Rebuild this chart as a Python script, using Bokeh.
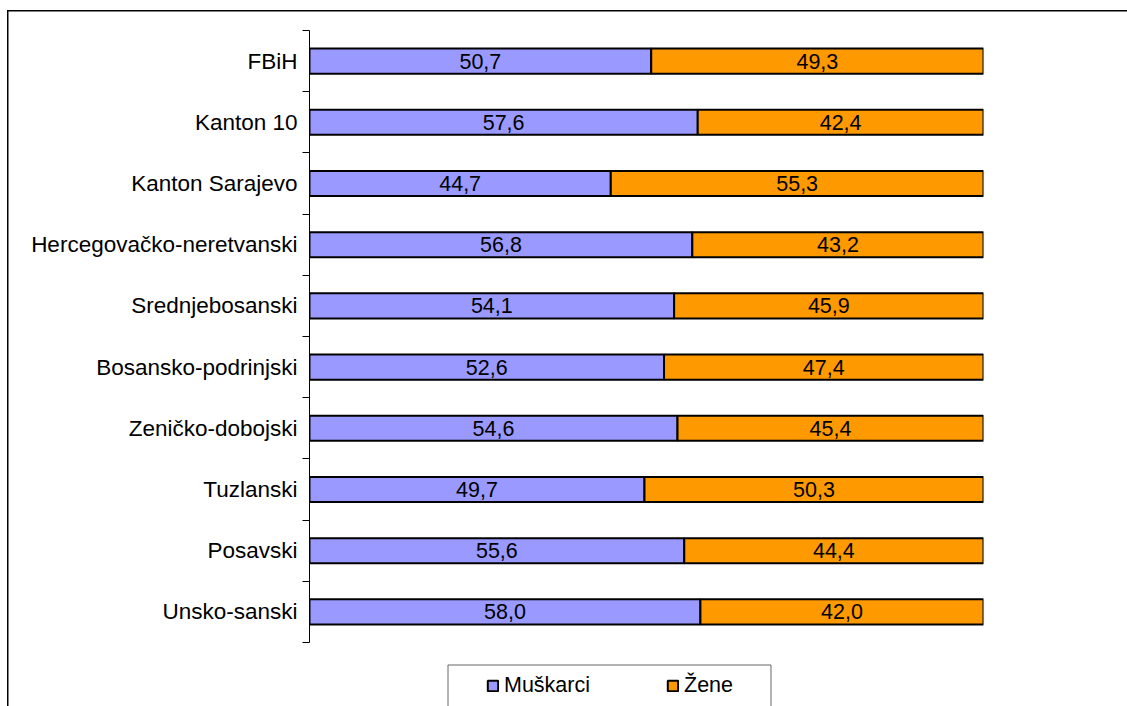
from bokeh.plotting import figure
from bokeh.models import (ColumnDataSource, Range1d, FixedTicker, Legend, LegendItem,
                          BoxAnnotation, LinearAxis)
from bokeh.core.properties import value
from bokeh.embed import file_html
from bokeh.resources import INLINE

# ---- data (top to bottom) ----
categories = ["FBiH", "Kanton 10", "Kanton Sarajevo", "Hercegovačko-neretvanski",
              "Srednjebosanski", "Bosansko-podrinjski", "Zeničko-dobojski",
              "Tuzlanski", "Posavski", "Unsko-sanski"]
muskarci = [50.7, 57.6, 44.7, 56.8, 54.1, 52.6, 54.6, 49.7, 55.6, 58.0]
zene = [49.3, 42.4, 55.3, 43.2, 45.9, 47.4, 45.4, 50.3, 44.4, 42.0]
series_names = ["Muškarci", "Žene"]

BLUE = "#9999FF"
ORANGE = "#FF9900"
FONT = "Liberation Sans"

n = len(categories)
ys = [i + 0.5 for i in range(n)]

def fmt(v):
    return f"{v:.1f}".replace(".", ",")

src = ColumnDataSource(dict(
    y=ys,
    m_end=muskarci,
    z_end=[a + b for a, b in zip(muskarci, zene)],
    m_mid=[a / 2 for a in muskarci],
    z_mid=[a + b / 2 for a, b in zip(muskarci, zene)],
    m_lab=[fmt(v) for v in muskarci],
    z_lab=[fmt(v) for v in zene],
))

# frame: categories take the top 612 px, the remaining 64 px hold the legend
p = figure(frame_width=674, frame_height=676,
           min_border_left=309, min_border_right=144,
           min_border_top=30, min_border_bottom=0,
           x_range=Range1d(0, 100), y_range=Range1d(n + 64 / 61.2, 0),
           x_axis_location=None, y_axis_location=None,
           output_backend="svg", toolbar_location=None,
           background_fill_color="white", border_fill_alpha=0)
p.outline_line_color = None
p.xgrid.visible = False
p.ygrid.visible = False
p.styles = {
    "background": ("linear-gradient(#000,#000) 7px 10px / 1.5px calc(100% - 10px) no-repeat, "
                   "linear-gradient(#000,#000) 7px 10px / calc(100% - 7px) 1.5px no-repeat, #fff"),
}

bar_h = 0.41
r_m = p.hbar(y="y", left=0, right="m_end", height=bar_h, source=src,
             fill_color=BLUE, line_color="black", line_width=2)
r_z = p.hbar(y="y", left="m_end", right="z_end", height=bar_h, source=src,
             fill_color=ORANGE, line_color="black", line_width=2)

p.text(x="m_mid", y="y", text="m_lab", source=src, text_align="center",
       text_baseline="middle", text_font=value(FONT), text_font_size="21.5px",
       text_color="black")
p.text(x="z_mid", y="y", text="z_lab", source=src, text_align="center",
       text_baseline="middle", text_font=value(FONT), text_font_size="21.5px",
       text_color="black")

# y axis: labels at category centres, ticks at category boundaries
yaxis = LinearAxis(
    ticker=FixedTicker(ticks=ys, minor_ticks=list(range(n + 1))),
    major_label_overrides={y: c for y, c in zip(ys, categories)},
    bounds=(0, n),
    major_tick_line_color=None, major_tick_out=0, major_tick_in=0,
    minor_tick_line_color="black", minor_tick_out=7, minor_tick_in=0,
    minor_tick_line_width=1,
    axis_line_color="black", axis_line_width=1,
    major_label_standoff=5,
    major_label_text_font=FONT, major_label_text_font_size="22.5px",
    major_label_text_color="black",
)
p.add_layout(yaxis, "left")

legend = Legend(
    items=[LegendItem(label=series_names[0], renderers=[r_m]),
           LegendItem(label=series_names[1], renderers=[r_z])],
    location=(169, 0), orientation="horizontal",
    padding=8, margin=0, spacing=76, label_standoff=5,
    glyph_width=13, glyph_height=13,
    label_text_font=FONT, label_text_font_size="21.5px", label_text_color="black",
    border_line_alpha=0, background_fill_alpha=0,
)
p.add_layout(legend, "center")

legbox = BoxAnnotation(left=447.5, right=770.5, top=664.5, bottom=3000,
                       left_units="canvas", right_units="canvas",
                       top_units="canvas", bottom_units="canvas",
                       fill_alpha=0, line_color="#666666", line_alpha=1,
                       line_width=1, level="overlay")
p.add_layout(legbox)

open("out.html", "w").write(file_html(p, INLINE))
